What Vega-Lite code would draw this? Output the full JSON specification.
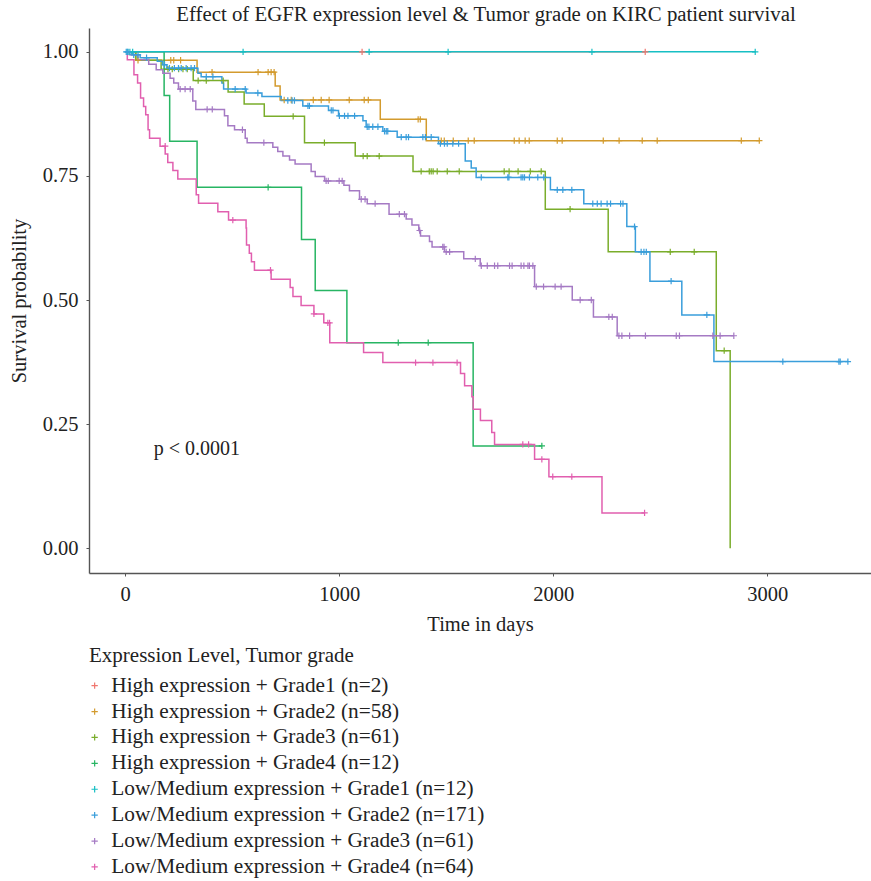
{
"$schema": "https://vega.github.io/schema/vega-lite/v6.json",
"width": 782, "height": 545,
"autosize": {"type": "none"},
"padding": {"left": 89, "top": 28, "right": 0, "bottom": 308},
"background": "white",
"title": {"text": "Effect of EGFR expression level & Tumor grade on KIRC patient survival", "font": "Liberation Serif", "fontSize": 20.8, "fontWeight": "normal", "color": "#222222", "anchor": "middle", "dx": 6, "offset": 2},
"config": {
 "view": {"stroke": null},
 "font": "Liberation Serif",
 "axis": {"grid": false, "domainColor": "#555555", "domainWidth": 1.4, "tickColor": "#555555", "tickSize": 3, "labelFont": "Liberation Serif", "labelFontSize": 20.5, "labelColor": "#222222", "titleFont": "Liberation Serif", "titleFontSize": 20.5, "titleFontWeight": "normal", "titleColor": "#222222"},
 "legend": {"labelFont": "Liberation Serif", "titleFont": "Liberation Serif"}
},
"datasets": {
 "names": [
  {"k": "H1", "grp": "High expression + Grade1 (n=2)"},
  {"k": "H2", "grp": "High expression + Grade2 (n=58)"},
  {"k": "H3", "grp": "High expression + Grade3 (n=61)"},
  {"k": "H4", "grp": "High expression + Grade4 (n=12)"},
  {"k": "L1", "grp": "Low/Medium expression + Grade1 (n=12)"},
  {"k": "L2", "grp": "Low/Medium expression + Grade2 (n=171)"},
  {"k": "L3", "grp": "Low/Medium expression + Grade3 (n=61)"},
  {"k": "L4", "grp": "Low/Medium expression + Grade4 (n=64)"}
 ],
 "curves": [
  {"k":"H1","t":0,"s":1},{"k":"H1","t":2430,"s":1},
  {"k":"H2","t":0,"s":1},{"k":"H2","t":49,"s":0.983},{"k":"H2","t":336,"s":0.959},{"k":"H2","t":701,"s":0.931},{"k":"H2","t":724,"s":0.903},{"k":"H2","t":1192,"s":0.864},{"k":"H2","t":1407,"s":0.821},{"k":"H2","t":2963,"s":0.821},
  {"k":"H3","t":0,"s":1},{"k":"H3","t":50,"s":0.983},{"k":"H3","t":168,"s":0.965},{"k":"H3","t":318,"s":0.942},{"k":"H3","t":481,"s":0.919},{"k":"H3","t":556,"s":0.895},{"k":"H3","t":650,"s":0.870},{"k":"H3","t":838,"s":0.817},{"k":"H3","t":1075,"s":0.790},{"k":"H3","t":1345,"s":0.759},{"k":"H3","t":1963,"s":0.683},{"k":"H3","t":2257,"s":0.597},{"k":"H3","t":2762,"s":0.398},{"k":"H3","t":2827,"s":0},
  {"k":"H4","t":0,"s":1},{"k":"H4","t":182,"s":0.912},{"k":"H4","t":208,"s":0.820},{"k":"H4","t":336,"s":0.727},{"k":"H4","t":824,"s":0.622},{"k":"H4","t":888,"s":0.519},{"k":"H4","t":1036,"s":0.414},{"k":"H4","t":1626,"s":0.206},{"k":"H4","t":1947,"s":0.206},
  {"k":"L1","t":0,"s":1},{"k":"L1","t":2947,"s":1},
  {"k":"L2","t":0,"s":1},{"k":"L2","t":30,"s":0.994},{"k":"L2","t":70,"s":0.988},{"k":"L2","t":150,"s":0.981},{"k":"L2","t":175,"s":0.974},{"k":"L2","t":195,"s":0.967},{"k":"L2","t":340,"s":0.957},{"k":"L2","t":355,"s":0.950},{"k":"L2","t":452,"s":0.937},{"k":"L2","t":460,"s":0.925},{"k":"L2","t":565,"s":0.917},{"k":"L2","t":639,"s":0.910},{"k":"L2","t":729,"s":0.902},{"k":"L2","t":830,"s":0.891},{"k":"L2","t":950,"s":0.882},{"k":"L2","t":997,"s":0.871},{"k":"L2","t":1111,"s":0.861},{"k":"L2","t":1126,"s":0.849},{"k":"L2","t":1204,"s":0.840},{"k":"L2","t":1271,"s":0.828},{"k":"L2","t":1464,"s":0.815},{"k":"L2","t":1589,"s":0.780},{"k":"L2","t":1617,"s":0.766},{"k":"L2","t":1640,"s":0.747},{"k":"L2","t":1987,"s":0.722},{"k":"L2","t":2143,"s":0.694},{"k":"L2","t":2344,"s":0.648},{"k":"L2","t":2384,"s":0.597},{"k":"L2","t":2452,"s":0.538},{"k":"L2","t":2601,"s":0.470},{"k":"L2","t":2751,"s":0.376},{"k":"L2","t":3377,"s":0.376},
  {"k":"L3","t":0,"s":1},{"k":"L3","t":20,"s":0.994},{"k":"L3","t":59,"s":0.984},{"k":"L3","t":110,"s":0.975},{"k":"L3","t":145,"s":0.964},{"k":"L3","t":176,"s":0.957},{"k":"L3","t":210,"s":0.947},{"k":"L3","t":227,"s":0.937},{"k":"L3","t":249,"s":0.925},{"k":"L3","t":316,"s":0.901},{"k":"L3","t":330,"s":0.884},{"k":"L3","t":464,"s":0.871},{"k":"L3","t":480,"s":0.851},{"k":"L3","t":511,"s":0.843},{"k":"L3","t":561,"s":0.826},{"k":"L3","t":570,"s":0.817},{"k":"L3","t":690,"s":0.808},{"k":"L3","t":713,"s":0.799},{"k":"L3","t":737,"s":0.790},{"k":"L3","t":768,"s":0.782},{"k":"L3","t":794,"s":0.774},{"k":"L3","t":869,"s":0.759},{"k":"L3","t":888,"s":0.749},{"k":"L3","t":932,"s":0.740},{"k":"L3","t":1022,"s":0.731},{"k":"L3","t":1048,"s":0.720},{"k":"L3","t":1095,"s":0.703},{"k":"L3","t":1131,"s":0.694},{"k":"L3","t":1233,"s":0.673},{"k":"L3","t":1313,"s":0.663},{"k":"L3","t":1340,"s":0.651},{"k":"L3","t":1372,"s":0.640},{"k":"L3","t":1380,"s":0.629},{"k":"L3","t":1422,"s":0.618},{"k":"L3","t":1434,"s":0.607},{"k":"L3","t":1492,"s":0.597},{"k":"L3","t":1582,"s":0.583},{"k":"L3","t":1659,"s":0.569},{"k":"L3","t":1913,"s":0.527},{"k":"L3","t":2089,"s":0.500},{"k":"L3","t":2188,"s":0.466},{"k":"L3","t":2299,"s":0.428},{"k":"L3","t":2844,"s":0.428},
  {"k":"L4","t":0,"s":1},{"k":"L4","t":10,"s":0.984},{"k":"L4","t":41,"s":0.954},{"k":"L4","t":58,"s":0.937},{"k":"L4","t":72,"s":0.907},{"k":"L4","t":86,"s":0.890},{"k":"L4","t":96,"s":0.873},{"k":"L4","t":107,"s":0.843},{"k":"L4","t":114,"s":0.826},{"k":"L4","t":163,"s":0.810},{"k":"L4","t":187,"s":0.794},{"k":"L4","t":199,"s":0.777},{"k":"L4","t":223,"s":0.761},{"k":"L4","t":246,"s":0.744},{"k":"L4","t":332,"s":0.712},{"k":"L4","t":343,"s":0.695},{"k":"L4","t":433,"s":0.678},{"k":"L4","t":483,"s":0.661},{"k":"L4","t":565,"s":0.645},{"k":"L4","t":567,"s":0.611},{"k":"L4","t":580,"s":0.594},{"k":"L4","t":590,"s":0.577},{"k":"L4","t":604,"s":0.560},{"k":"L4","t":682,"s":0.542},{"k":"L4","t":771,"s":0.525},{"k":"L4","t":784,"s":0.507},{"k":"L4","t":822,"s":0.489},{"k":"L4","t":882,"s":0.472},{"k":"L4","t":928,"s":0.454},{"k":"L4","t":956,"s":0.414},{"k":"L4","t":1114,"s":0.394},{"k":"L4","t":1204,"s":0.374},{"k":"L4","t":1567,"s":0.352},{"k":"L4","t":1586,"s":0.327},{"k":"L4","t":1620,"s":0.305},{"k":"L4","t":1626,"s":0.280},{"k":"L4","t":1660,"s":0.257},{"k":"L4","t":1713,"s":0.233},{"k":"L4","t":1726,"s":0.209},{"k":"L4","t":1913,"s":0.179},{"k":"L4","t":1980,"s":0.144},{"k":"L4","t":2228,"s":0.071},{"k":"L4","t":2427,"s":0.071}
 ],
 "censor": [
  {"k":"H1","t":1107,"s":1},{"k":"H1","t":2430,"s":1},
  {"k":"H2","t":60,"s":0.983},{"k":"H2","t":213,"s":0.983},{"k":"H2","t":227,"s":0.983},{"k":"H2","t":259,"s":0.983},{"k":"H2","t":406,"s":0.959},{"k":"H2","t":621,"s":0.959},{"k":"H2","t":668,"s":0.959},{"k":"H2","t":682,"s":0.959},{"k":"H2","t":696,"s":0.959},{"k":"H2","t":743,"s":0.903},{"k":"H2","t":776,"s":0.903},{"k":"H2","t":879,"s":0.903},{"k":"H2","t":916,"s":0.903},{"k":"H2","t":953,"s":0.903},{"k":"H2","t":1047,"s":0.903},{"k":"H2","t":1117,"s":0.903},{"k":"H2","t":1136,"s":0.903},{"k":"H2","t":1369,"s":0.864},{"k":"H2","t":1379,"s":0.864},{"k":"H2","t":1477,"s":0.821},{"k":"H2","t":1491,"s":0.821},{"k":"H2","t":1533,"s":0.821},{"k":"H2","t":1603,"s":0.821},{"k":"H2","t":1631,"s":0.821},{"k":"H2","t":1818,"s":0.821},{"k":"H2","t":1841,"s":0.821},{"k":"H2","t":1869,"s":0.821},{"k":"H2","t":1888,"s":0.821},{"k":"H2","t":2019,"s":0.821},{"k":"H2","t":2042,"s":0.821},{"k":"H2","t":2234,"s":0.821},{"k":"H2","t":2308,"s":0.821},{"k":"H2","t":2416,"s":0.821},{"k":"H2","t":2486,"s":0.821},{"k":"H2","t":2879,"s":0.821},{"k":"H2","t":2963,"s":0.821},
  {"k":"H3","t":200,"s":0.965},{"k":"H3","t":220,"s":0.965},{"k":"H3","t":250,"s":0.965},{"k":"H3","t":270,"s":0.965},{"k":"H3","t":290,"s":0.965},{"k":"H3","t":341,"s":0.942},{"k":"H3","t":379,"s":0.942},{"k":"H3","t":458,"s":0.942},{"k":"H3","t":785,"s":0.870},{"k":"H3","t":931,"s":0.817},{"k":"H3","t":1112,"s":0.790},{"k":"H3","t":1131,"s":0.790},{"k":"H3","t":1187,"s":0.790},{"k":"H3","t":1383,"s":0.759},{"k":"H3","t":1421,"s":0.759},{"k":"H3","t":1430,"s":0.759},{"k":"H3","t":1439,"s":0.759},{"k":"H3","t":1458,"s":0.759},{"k":"H3","t":1505,"s":0.759},{"k":"H3","t":1561,"s":0.759},{"k":"H3","t":1771,"s":0.759},{"k":"H3","t":1794,"s":0.759},{"k":"H3","t":1836,"s":0.759},{"k":"H3","t":1893,"s":0.759},{"k":"H3","t":1944,"s":0.759},{"k":"H3","t":2079,"s":0.683},{"k":"H3","t":2547,"s":0.597},{"k":"H3","t":2659,"s":0.597},{"k":"H3","t":2799,"s":0.398},
  {"k":"H4","t":668,"s":0.727},{"k":"H4","t":1276,"s":0.414},{"k":"H4","t":1416,"s":0.414},{"k":"H4","t":1947,"s":0.206},
  {"k":"L1","t":10,"s":1},{"k":"L1","t":22,"s":1},{"k":"L1","t":35,"s":1},{"k":"L1","t":551,"s":1},{"k":"L1","t":1140,"s":1},{"k":"L1","t":1509,"s":1},{"k":"L1","t":2181,"s":1},{"k":"L1","t":2944,"s":1},
  {"k":"L2","t":5,"s":1},{"k":"L2","t":14,"s":1},{"k":"L2","t":40,"s":0.994},{"k":"L2","t":60,"s":0.994},{"k":"L2","t":100,"s":0.988},{"k":"L2","t":184,"s":0.974},{"k":"L2","t":207,"s":0.967},{"k":"L2","t":230,"s":0.967},{"k":"L2","t":249,"s":0.967},{"k":"L2","t":262,"s":0.967},{"k":"L2","t":285,"s":0.967},{"k":"L2","t":308,"s":0.967},{"k":"L2","t":324,"s":0.967},{"k":"L2","t":379,"s":0.950},{"k":"L2","t":410,"s":0.950},{"k":"L2","t":514,"s":0.925},{"k":"L2","t":561,"s":0.925},{"k":"L2","t":620,"s":0.917},{"k":"L2","t":760,"s":0.902},{"k":"L2","t":780,"s":0.902},{"k":"L2","t":791,"s":0.902},{"k":"L2","t":854,"s":0.891},{"k":"L2","t":861,"s":0.891},{"k":"L2","t":963,"s":0.882},{"k":"L2","t":971,"s":0.882},{"k":"L2","t":1001,"s":0.871},{"k":"L2","t":1025,"s":0.871},{"k":"L2","t":1041,"s":0.871},{"k":"L2","t":1072,"s":0.871},{"k":"L2","t":1131,"s":0.849},{"k":"L2","t":1139,"s":0.849},{"k":"L2","t":1157,"s":0.849},{"k":"L2","t":1181,"s":0.849},{"k":"L2","t":1212,"s":0.840},{"k":"L2","t":1220,"s":0.840},{"k":"L2","t":1227,"s":0.840},{"k":"L2","t":1290,"s":0.828},{"k":"L2","t":1313,"s":0.828},{"k":"L2","t":1324,"s":0.828},{"k":"L2","t":1391,"s":0.828},{"k":"L2","t":1403,"s":0.828},{"k":"L2","t":1430,"s":0.828},{"k":"L2","t":1473,"s":0.815},{"k":"L2","t":1492,"s":0.815},{"k":"L2","t":1505,"s":0.815},{"k":"L2","t":1531,"s":0.815},{"k":"L2","t":1558,"s":0.815},{"k":"L2","t":1664,"s":0.747},{"k":"L2","t":1788,"s":0.747},{"k":"L2","t":1793,"s":0.747},{"k":"L2","t":1850,"s":0.747},{"k":"L2","t":1858,"s":0.747},{"k":"L2","t":1866,"s":0.747},{"k":"L2","t":1889,"s":0.747},{"k":"L2","t":1928,"s":0.747},{"k":"L2","t":1956,"s":0.747},{"k":"L2","t":2019,"s":0.722},{"k":"L2","t":2045,"s":0.722},{"k":"L2","t":2087,"s":0.722},{"k":"L2","t":2185,"s":0.694},{"k":"L2","t":2206,"s":0.694},{"k":"L2","t":2224,"s":0.694},{"k":"L2","t":2252,"s":0.694},{"k":"L2","t":2268,"s":0.694},{"k":"L2","t":2315,"s":0.694},{"k":"L2","t":2326,"s":0.694},{"k":"L2","t":2380,"s":0.648},{"k":"L2","t":2411,"s":0.597},{"k":"L2","t":2424,"s":0.597},{"k":"L2","t":2435,"s":0.597},{"k":"L2","t":2551,"s":0.538},{"k":"L2","t":2718,"s":0.470},{"k":"L2","t":3073,"s":0.376},{"k":"L2","t":3335,"s":0.376},{"k":"L2","t":3341,"s":0.376},{"k":"L2","t":3377,"s":0.376},
  {"k":"L3","t":257,"s":0.925},{"k":"L3","t":280,"s":0.925},{"k":"L3","t":304,"s":0.925},{"k":"L3","t":383,"s":0.884},{"k":"L3","t":407,"s":0.884},{"k":"L3","t":548,"s":0.843},{"k":"L3","t":648,"s":0.817},{"k":"L3","t":939,"s":0.740},{"k":"L3","t":949,"s":0.740},{"k":"L3","t":1000,"s":0.740},{"k":"L3","t":1014,"s":0.740},{"k":"L3","t":1103,"s":0.703},{"k":"L3","t":1121,"s":0.703},{"k":"L3","t":1168,"s":0.694},{"k":"L3","t":1281,"s":0.673},{"k":"L3","t":1305,"s":0.673},{"k":"L3","t":1376,"s":0.640},{"k":"L3","t":1484,"s":0.607},{"k":"L3","t":1490,"s":0.607},{"k":"L3","t":1500,"s":0.597},{"k":"L3","t":1516,"s":0.597},{"k":"L3","t":1636,"s":0.583},{"k":"L3","t":1664,"s":0.569},{"k":"L3","t":1692,"s":0.569},{"k":"L3","t":1726,"s":0.569},{"k":"L3","t":1741,"s":0.569},{"k":"L3","t":1796,"s":0.569},{"k":"L3","t":1808,"s":0.569},{"k":"L3","t":1850,"s":0.569},{"k":"L3","t":1863,"s":0.569},{"k":"L3","t":1882,"s":0.569},{"k":"L3","t":1889,"s":0.569},{"k":"L3","t":1905,"s":0.569},{"k":"L3","t":1921,"s":0.527},{"k":"L3","t":1955,"s":0.527},{"k":"L3","t":2009,"s":0.527},{"k":"L3","t":2037,"s":0.527},{"k":"L3","t":2126,"s":0.500},{"k":"L3","t":2178,"s":0.500},{"k":"L3","t":2260,"s":0.466},{"k":"L3","t":2276,"s":0.466},{"k":"L3","t":2307,"s":0.428},{"k":"L3","t":2321,"s":0.428},{"k":"L3","t":2357,"s":0.428},{"k":"L3","t":2431,"s":0.428},{"k":"L3","t":2575,"s":0.428},{"k":"L3","t":2590,"s":0.428},{"k":"L3","t":2746,"s":0.428},{"k":"L3","t":2780,"s":0.428},{"k":"L3","t":2844,"s":0.428},
  {"k":"L4","t":187,"s":0.810},{"k":"L4","t":503,"s":0.661},{"k":"L4","t":679,"s":0.560},{"k":"L4","t":882,"s":0.472},{"k":"L4","t":947,"s":0.454},{"k":"L4","t":955,"s":0.454},{"k":"L4","t":1357,"s":0.374},{"k":"L4","t":1438,"s":0.374},{"k":"L4","t":1551,"s":0.374},{"k":"L4","t":1858,"s":0.209},{"k":"L4","t":1885,"s":0.209},{"k":"L4","t":1947,"s":0.179},{"k":"L4","t":1998,"s":0.144},{"k":"L4","t":2087,"s":0.144},{"k":"L4","t":2427,"s":0.071}
 ]
},
"layer": [
 {
  "data": {"name": "curves"},
  "transform": [{"lookup": "k", "from": {"data": {"name": "names"}, "key": "k", "fields": ["grp"]}}],
  "mark": {"type": "line", "interpolate": "step-after", "strokeWidth": 1.5},
  "encoding": {
   "x": {"field": "t", "type": "quantitative", "title": "Time in days", "scale": {"domain": [-169, 3485], "nice": false, "zero": false}, "axis": {"values": [0, 1000, 2000, 3000], "format": "d", "labelPadding": 8, "titlePadding": 10}},
   "y": {"field": "s", "type": "quantitative", "title": "Survival probability", "scale": {"domain": [-0.05, 1.048], "nice": false, "zero": false}, "axis": {"values": [0, 0.25, 0.5, 0.75, 1], "format": ".2f", "labelPadding": 8, "titlePadding": 13}},
   "color": {"field": "grp", "type": "nominal", "title": "Expression Level, Tumor grade",
    "scale": {"domain": ["High expression + Grade1 (n=2)", "High expression + Grade2 (n=58)", "High expression + Grade3 (n=61)", "High expression + Grade4 (n=12)", "Low/Medium expression + Grade1 (n=12)", "Low/Medium expression + Grade2 (n=171)", "Low/Medium expression + Grade3 (n=61)", "Low/Medium expression + Grade4 (n=64)"],
     "range": ["#F0766E", "#D39B2E", "#7AAD2B", "#27B563", "#17BFC4", "#3A9EDB", "#A57AC4", "#E15FAF"]},
    "legend": {"orient": "none", "legendX": 0, "legendY": 617, "direction": "vertical", "padding": 0, "titleFont": "Liberation Serif", "titleFontSize": 21, "titleFontWeight": "normal", "titleColor": "#222222", "titlePadding": 9, "titleLimit": 0, "labelFont": "Liberation Serif", "labelFontSize": 21.3, "labelColor": "#222222", "labelLimit": 0, "labelOffset": 6, "rowPadding": 3.9, "symbolOffset": -5, "symbolType": "M-1,0H1M0,-1V1", "symbolSize": 40, "symbolStrokeWidth": 1.2}
   }
  }
 },
 {
  "data": {"name": "censor"},
  "transform": [{"lookup": "k", "from": {"data": {"name": "names"}, "key": "k", "fields": ["grp"]}}],
  "mark": {"type": "point", "shape": "M-1,0H1M0,-1V1", "filled": false, "size": 40, "strokeWidth": 1.2, "opacity": 1},
  "encoding": {
   "x": {"field": "t", "type": "quantitative"},
   "y": {"field": "s", "type": "quantitative"},
   "color": {"field": "grp", "type": "nominal"}
  }
 },
 {
  "data": {"values": [{"t": 133, "s": 0.2, "label": "p < 0.0001"}]},
  "mark": {"type": "text", "align": "left", "baseline": "middle", "font": "Liberation Serif", "fontSize": 20, "color": "#222222"},
  "encoding": {
   "x": {"field": "t", "type": "quantitative"},
   "y": {"field": "s", "type": "quantitative"},
   "text": {"field": "label"}
  }
 }
]
}
